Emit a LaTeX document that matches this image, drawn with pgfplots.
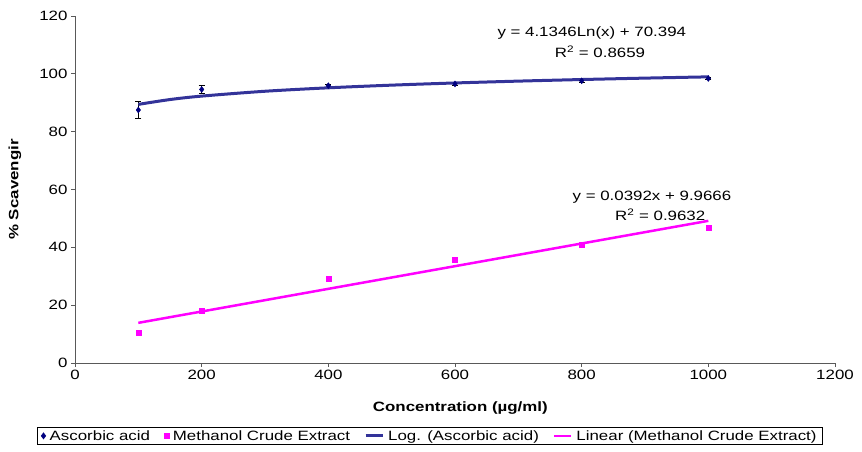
\documentclass[border=0pt]{standalone}
\usepackage{pgfplots}
\pgfplotsset{compat=1.18}
\usepackage{fontspec}
\setmainfont[FakeStretch=1.25]{Liberation Sans}
\definecolor{navy}{HTML}{000080}
\definecolor{logblue}{HTML}{333399}
\definecolor{mag}{HTML}{FF00FF}
\begin{document}
\begin{tikzpicture}[x=1pt,y=1pt]
\path[use as bounding box] (0,0) rectangle (862,-452);
\begin{axis}[
  at={(75pt,-363pt)}, anchor=south west,
  scale only axis, width=760pt, height=347pt,
  xmin=0, xmax=1200, ymin=0, ymax=120,
  xtick={0,200,...,1200}, ytick={0,20,...,120},
  axis lines*=left,
  axis line style={gray!70!black, line width=0.8pt},
  tick style={gray!70!black, line width=0.8pt},
  tick align=outside, major tick length=4pt,
  /pgf/number format/assume math mode=true,
  /pgf/number format/1000 sep={},
  ticklabel style={font=\fontsize{13.5}{15}\selectfont},
  xlabel={\textbf{Concentration (µg/ml)}},
  ylabel={\textbf{\% Scavengir}},
  label style={font=\fontsize{13.5}{15}\selectfont},
  xlabel style={at={(axis description cs:0.507,-0.13)}, anchor=center},
  ylabel style={at={(axis description cs:-0.079,0.5)}, anchor=center},
  legend columns=4,
  legend style={at={(axis description cs:0.467,-0.21)}, anchor=center,
    font=\fontsize{13.5}{15}\selectfont, draw=black, line width=0.6pt,
    inner xsep=4pt, inner ysep=1pt,
    /tikz/every odd column/.append style={column sep=2pt},
    /tikz/every even column/.append style={column sep=12pt}},
  legend cell align=left,
  clip=false,
]
\addplot[only marks, mark=diamond*, mark size=3pt, color=navy,
  error bars/.cd, y dir=both, y explicit, error bar style={black, line width=0.6pt}, error mark options={black, mark size=3pt, line width=0.6pt, rotate=90}]
  coordinates {
  (100,87.5) +- (0,3.0)
  (200,94.6) +- (0,1.4)
  (400,95.9) +- (0,0.6)
  (600,96.5) +- (0,0.5)
  (800,97.6) +- (0,0.4)
  (1000,98.4) +- (0,0.4)
  };
\addlegendentry{Ascorbic acid}
\addplot[only marks, mark=square*, mark size=2.4pt, color=mag]
  coordinates {
  (100,10.4) (200,18.0) (400,29.1) (600,35.6) (800,40.9) (1000,46.8)
  };
\addlegendentry{Methanol Crude Extract}
\addplot[color=logblue, line width=3pt, smooth, no marks]
  coordinates {
  (100,89.434) (150,91.111) (200,92.300) (300,93.977) (400,95.166)
  (500,96.089) (600,96.842) (700,97.480) (800,98.032) (900,98.519) (1000,98.955)
  };
\addlegendentry{Log. (Ascorbic acid)}
\addplot[color=mag, line width=2.5pt, no marks]
  coordinates {(100,13.887) (1000,49.167)};
\addlegendentry{Linear (Methanol Crude Extract)}
\node[font=\fontsize{13.5}{15}\selectfont] at (axis cs:816,114.2) {y = 4.1346Ln(x) + 70.394};
\node[font=\fontsize{13.5}{15}\selectfont] at (axis cs:829,107.6) {R\textsuperscript{2} = 0.8659};
\node[font=\fontsize{13.5}{15}\selectfont] at (axis cs:911,57.4) {y = 0.0392x + 9.9666};
\node[font=\fontsize{13.5}{15}\selectfont] at (axis cs:924,51.2) {R\textsuperscript{2} = 0.9632};
\end{axis}
\end{tikzpicture}
\end{document}
